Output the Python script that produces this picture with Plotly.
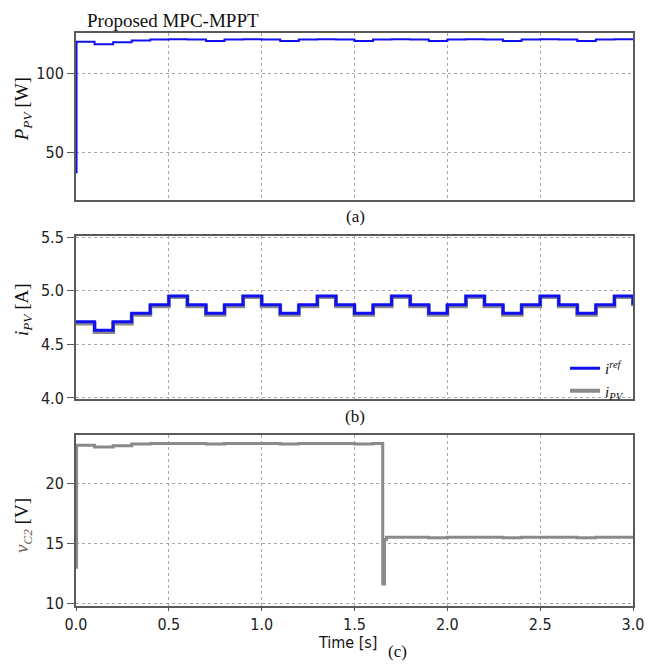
import plotly.graph_objects as go

# step instants [s] (controller updates every 0.1 s)
step_t = [0.0, 0.1, 0.2, 0.3, 0.4, 0.5, 0.6, 0.7, 0.8, 0.9, 1.0,
          1.1, 1.2, 1.3, 1.4, 1.5, 1.6, 1.7, 1.8, 1.9, 2.0,
          2.1, 2.2, 2.3, 2.4, 2.5, 2.6, 2.7, 2.8, 2.9, 3.0]

# (b) reference current and PV current [A]
i_ref = [4.71, 4.63, 4.71, 4.79, 4.87, 4.95, 4.87, 4.79, 4.87, 4.95, 4.87,
         4.79, 4.87, 4.95, 4.87, 4.79, 4.87, 4.95, 4.87, 4.79, 4.87,
         4.95, 4.87, 4.79, 4.87, 4.95, 4.87, 4.79, 4.87, 4.95, 4.87]
i_pv = [4.695, 4.615, 4.695, 4.775, 4.855, 4.94, 4.855, 4.775, 4.855, 4.94, 4.855,
        4.775, 4.855, 4.94, 4.855, 4.775, 4.855, 4.94, 4.855, 4.775, 4.855,
        4.94, 4.855, 4.775, 4.855, 4.94, 4.855, 4.775, 4.855, 4.94, 4.855]

# (a) PV power [W]
p_t = [0.0, 0.003, 0.1, 0.2, 0.3, 0.4, 0.5, 0.6, 0.7, 0.8, 0.9, 1.0,
       1.1, 1.2, 1.3, 1.4, 1.5, 1.6, 1.7, 1.8, 1.9, 2.0,
       2.1, 2.2, 2.3, 2.4, 2.5, 2.6, 2.7, 2.8, 2.9, 3.0]
p_pv = [37.6, 119.7, 118.2, 119.4, 120.5, 121.1, 121.2, 121.1, 120.2, 121.1, 121.2, 121.1,
        120.2, 121.1, 121.2, 121.1, 120.2, 121.1, 121.2, 121.1, 120.2, 121.1,
        121.2, 121.1, 120.2, 121.1, 121.2, 121.1, 120.2, 121.1, 121.2, 121.1]

# (c) capacitor voltage [V]
v_t = [0.0, 0.003, 0.1, 0.2, 0.3, 0.4, 0.5, 0.6, 0.7, 0.8, 0.9, 1.0,
       1.1, 1.2, 1.3, 1.4, 1.5, 1.6, 1.652, 1.662, 1.672,
       1.7, 1.8, 1.9, 2.0, 2.1, 2.2, 2.3, 2.4, 2.5, 2.6, 2.7, 2.8, 2.9, 3.0]
v_c2 = [13.0, 23.15, 23.0, 23.1, 23.25, 23.3, 23.3, 23.3, 23.25, 23.3, 23.3, 23.3,
        23.25, 23.3, 23.3, 23.3, 23.25, 23.3, 11.6, 15.3, 15.5,
        15.5, 15.5, 15.45, 15.5, 15.5, 15.5, 15.45, 15.5, 15.5, 15.5, 15.45, 15.5, 15.5, 15.5]

BLUE = '#1010f0'
GREY = '#8a8a8a'
FRAME = '#5a5a5a'
GRID = '#a8a8a8'
SANS = "'DejaVu Sans Condensed', 'Liberation Sans', sans-serif"
TICKFONT = dict(family=SANS, size=16, color='#222')
SERIF = "'Liberation Serif', 'Times New Roman', serif"

fig = go.Figure()

fig.add_trace(go.Scatter(x=p_t, y=p_pv, mode='lines', line=dict(color=BLUE, width=2, shape='hv'),
                         showlegend=False, xaxis='x', yaxis='y'))

fig.add_trace(go.Scatter(x=step_t, y=i_pv, mode='lines', line=dict(color=GREY, width=4, shape='hv'),
                         name='<i>i<sub>PV</sub></i>', xaxis='x2', yaxis='y2'))
fig.add_trace(go.Scatter(x=step_t, y=i_ref, mode='lines', line=dict(color=BLUE, width=3, shape='hv'),
                         name='<i>i<sup>ref</sup></i>', xaxis='x2', yaxis='y2'))

fig.add_trace(go.Scatter(x=v_t, y=v_c2, mode='lines', line=dict(color=GREY, width=3, shape='hv'),
                         showlegend=False, xaxis='x3', yaxis='y3'))


def xax(show_labels, anchor):
    return dict(domain=[0, 1], range=[0, 3], anchor=anchor, dtick=0.5, tickformat='.1f',
                showgrid=True, gridcolor=GRID, griddash='dot', gridwidth=1,
                showline=True, linecolor=FRAME, linewidth=2, mirror=True,
                zeroline=False, showticklabels=show_labels,
                ticks='outside' if show_labels else '', ticklen=3, tickcolor=FRAME,
                tickfont=TICKFONT)


def yax(domain, rng, dtick, anchor, fmt=None):
    d = dict(domain=domain, range=rng, dtick=dtick, anchor=anchor,
             showgrid=True, gridcolor=GRID, griddash='dot', gridwidth=1,
             showline=True, linecolor=FRAME, linewidth=2, mirror=True,
             zeroline=False, ticks='outside', ticklen=7, tickcolor=FRAME,
             tickfont=TICKFONT)
    if fmt:
        d['tickformat'] = fmt
    return d


def note(text, x, y, size=17, angle=0, family=SERIF):
    return dict(text=text, x=x, y=y, xref='paper', yref='paper', xanchor='center',
                yanchor='middle', textangle=angle, showarrow=False,
                font=dict(family=family, size=size, color='#111'))


annotations = [
    dict(text='Proposed MPC-MPPT', x=0.016, y=1.0, xref='paper', yref='paper',
         xanchor='left', yanchor='bottom', yshift=0, showarrow=False,
         font=dict(family=SERIF, size=19, color='#111')),
    note('(a)', 0.501, 0.6794),
    note('(b)', 0.501, 0.3304),
    note('(c)', 0.578, -0.080),
    note('Time [s]', 0.488, -0.0645, size=16, family=SANS),
    note('<i>P<sub>PV</sub></i> [W]', -0.095, 0.867, size=19, angle=-90),
    note('<i>i<sub>PV</sub></i> [A]', -0.095, 0.5166, size=19, angle=-90),
    note("<i><span style='color:#6e6256'>v<sub>C2</sub></span></i> [V]", -0.095, 0.1396,
         size=19, angle=-90),
]

fig.update_layout(
    width=657, height=666,
    margin=dict(l=76, r=24, t=33, b=60),
    paper_bgcolor='white', plot_bgcolor='white',
    xaxis=xax(False, 'y'),
    xaxis2=xax(False, 'y2'),
    xaxis3=xax(True, 'y3'),
    yaxis=yax([0.7086, 1.0], [20.2, 125.2], 50, 'x'),
    yaxis2=yax([0.3613, 0.6457], [3.99, 5.51], 0.5, 'x2', '.1f'),
    yaxis3=yax([0.0, 0.2984], [9.77, 24.0], 5, 'x3'),
    legend=dict(x=0.878, y=0.4433, xanchor='left', yanchor='top', traceorder='reversed',
                bgcolor='rgba(0,0,0,0)', font=dict(family=SERIF, size=15, color='#111'),
                tracegroupgap=0, itemwidth=30),
    annotations=annotations,
)

fig.write_html("out.html", config={'displayModeBar': False},
               post_script="document.body.style.margin='0px';")
